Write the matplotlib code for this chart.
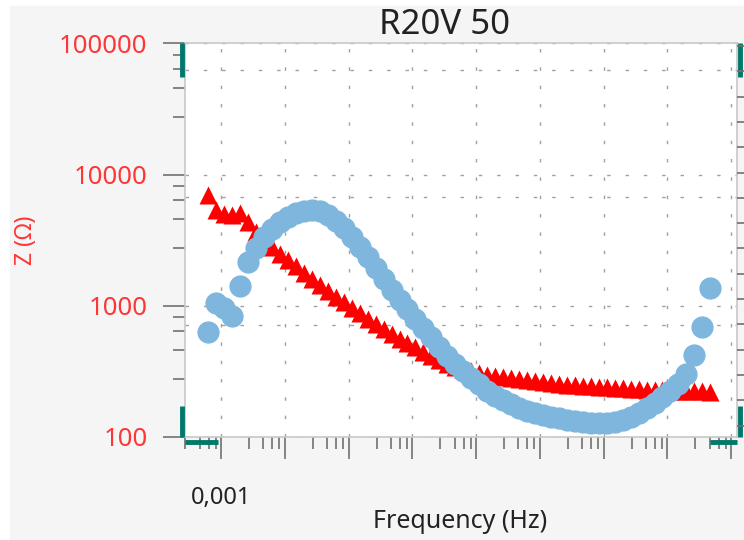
import matplotlib
matplotlib.use("Agg")
import matplotlib.pyplot as plt
from matplotlib.patches import Rectangle
from matplotlib.ticker import LogLocator, NullFormatter

plt.rcParams['font.family'] = ['Noto Sans', 'DejaVu Sans']

# frequency (Hz)
freq = [6.31e-4, 8.41e-4, 1.12e-3, 1.50e-3, 2.00e-3, 2.66e-3, 3.55e-3, 4.73e-3,
        6.31e-3, 8.41e-3, 1.12e-2, 1.50e-2, 2.00e-2, 2.66e-2, 3.55e-2, 4.73e-2,
        0.0631, 0.0841, 0.112, 0.150, 0.200, 0.266, 0.355, 0.473,
        0.631, 0.841, 1.12, 1.50, 2.00, 2.66, 3.55, 4.73,
        6.31, 8.41, 11.2, 15.0, 20.0, 26.6, 35.5, 47.3,
        63.1, 84.1, 112, 150, 200, 266, 355, 473,
        631, 841, 1120, 1500, 2000, 2660, 3550, 4730,
        6310, 8410, 11200, 15000, 20000, 26600, 35500, 47300]

# |Z| (red triangles)
z_mod = [7000, 5380, 5020, 4930, 5110, 4360, 3660, 3180,
         2810, 2490, 2240, 2010, 1780, 1600, 1440, 1300,
         1170, 1070, 964, 883, 795, 728, 667, 611,
         559, 521, 486, 445, 415, 387, 361, 342,
         330, 319, 308, 297, 292, 287, 282, 277,
         272, 268, 263, 258, 254, 250, 247, 245,
         243, 241, 239, 237, 235, 233, 231, 229,
         229, 227, 225, 225, 225, 223, 223, 221]

# second series (blue circles)
z_imag = [632, 1052, 964, 838, 1418, 2160, 2762, 3351,
          3856, 4360, 4760, 5107, 5289, 5383, 5289, 4930,
          4438, 3925, 3351, 2811, 2359, 1945, 1603, 1322,
          1109, 947, 795, 679, 579, 486, 415, 361,
          319, 282, 254, 225, 206, 192, 179, 167,
          158, 153, 147, 142, 140, 135, 133, 130,
          128, 128, 128, 130, 135, 142, 153, 167,
          182, 202, 225, 254, 303, 422, 691, 1369]

x_ticks = [1e-3, 1e-2, 1e-1, 1, 10, 100, 1e3, 1e4, 1e5]
x_tick_labels = ['0,001', '', '', '', '', '', '', '', '']
y_ticks = [100, 1000, 10000, 100000]
y_tick_labels = ['100', '1000', '10000', '100000']
extra_hgrid = [63000, 6700, 720]

red = '#ff0000'
blue = '#7eb6dd'
teal = '#00786c'
label_red = '#ff3636'

fig = plt.figure(figsize=(7.44, 5.4), dpi=100, facecolor='white')
fig.patches.append(Rectangle((10 / 744, 0), 734 / 744, 534 / 540,
                             transform=fig.transFigure, color='#f5f5f5', zorder=-5))

ax = fig.add_axes([185 / 744, 103 / 540, 552 / 744, 393.5 / 540])
ax.set_zorder(2)
ax.set_facecolor('white')
ax.set_xscale('log')
ax.set_yscale('log')
ax.set_xlim(10 ** -3.565, 10 ** 5.094)
ax.set_ylim(100, 100000)

grid_style = dict(color='#a0a0a0', lw=1.0, linestyle=(0, (2.5, 10.7)), zorder=0)
for xv in x_ticks:
    ax.axvline(xv, **grid_style)
for yv in y_ticks + extra_hgrid:
    ax.axhline(yv, **grid_style)

ax.plot(freq, z_mod, '^', color=red, ms=13, mec='none', zorder=3)
ax.plot(freq, z_imag, 'o', color=blue, ms=16, mec='none', zorder=4)

ax.set_xticks(x_ticks)
ax.set_xticklabels(x_tick_labels)
ax.set_yticks(y_ticks)
ax.set_yticklabels(y_tick_labels)
subs = (2.75, 4.6, 6.4, 8.2)
ax.xaxis.set_minor_locator(LogLocator(base=10, subs=subs, numticks=40))
ax.yaxis.set_minor_locator(LogLocator(base=10, subs=subs, numticks=40))
ax.xaxis.set_minor_formatter(NullFormatter())
ax.yaxis.set_minor_formatter(NullFormatter())

ax.tick_params(axis='both', which='major', direction='out', length=16, width=1.2,
               color='#707070')
ax.tick_params(axis='both', which='minor', direction='out', length=8.5, width=1.2,
               color='#707070')
ax.tick_params(axis='y', which='major', labelsize=18.5, labelcolor=label_red, pad=11)
ax.tick_params(axis='x', which='major', labelsize=17, labelcolor='#222222', pad=19)

for sp in ax.spines.values():
    sp.set_color('#c8c8c8')
    sp.set_linewidth(1.2)

# right hand axis ticks (labels fall outside the picture)
ax2 = ax.twinx()
ax2.set_ylim(-0.45, 15.1)
ax2.set_yticks(range(16))
ax2.tick_params(axis='y', direction='out', length=10, width=1.2, color='#707070',
                labelright=False)
for sp in ax2.spines.values():
    sp.set_visible(False)

fig.text(26 / 744, 1 - 240 / 540, 'Z (Ω)', rotation=90, ha='center', va='center',
         color=label_red, fontsize=16.5)
fig.text(460 / 744, 1 - 522 / 540, 'Frequency (Hz)', ha='center', va='center',
         fontsize=18, color='#222222')
fig.text(445 / 744, 1 - 25 / 540, 'R20V 50', ha='center', va='center',
         fontsize=25, color='#222222')

# teal range handles at the corners
handles = [([-0.006, -0.006], [0.915, 1.0]),
           ([-0.006, -0.006], [0.0, 0.08]),
           ([0.0, 0.06], [-0.012, -0.012]),
           ([0.951, 1.0], [-0.012, -0.012]),
           ([1.006, 1.006], [0.915, 1.0]),
           ([1.006, 1.006], [0.0, 0.08])]
for hx, hy in handles:
    ax.plot(hx, hy, color=teal, lw=3.5, transform=ax.transAxes, clip_on=False,
            solid_capstyle='butt', zorder=6)

fig.savefig('out.png', dpi=100, facecolor=fig.get_facecolor())
